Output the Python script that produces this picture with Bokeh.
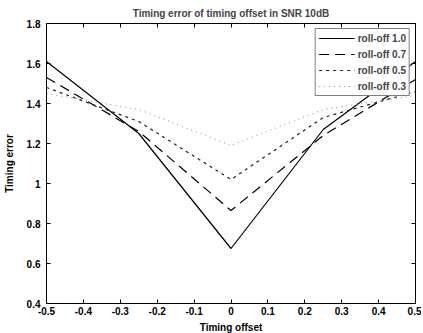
from bokeh.plotting import figure
from bokeh.models import FixedTicker, LinearAxis, Range1d, Legend, LegendItem
from bokeh.embed import file_html
from bokeh.resources import INLINE

# Data
offsets = [-0.5, -0.25, 0.0, 0.25, 0.5]
rolloff_10 = [1.61, 1.25, 0.675, 1.27, 1.61]
rolloff_07 = [1.53, 1.26, 0.865, 1.24, 1.52]
rolloff_05 = [1.48, 1.31, 1.02, 1.33, 1.46]
rolloff_03 = [1.45, 1.37, 1.19, 1.37, 1.44]
series_labels = ["roll-off 1.0", "roll-off 0.7", "roll-off 0.5", "roll-off 0.3"]

x_ticks = [-0.5, -0.4, -0.3, -0.2, -0.1, 0, 0.1, 0.2, 0.3, 0.4, 0.5]
x_tick_labels = ["-0.5", "-0.4", "-0.3", "-0.2", "-0.1", "0", "0.1", "0.2", "0.3", "0.4", "0.5"]
y_ticks = [0.4, 0.6, 0.8, 1.0, 1.2, 1.4, 1.6, 1.8]
y_tick_labels = ["0.4", "0.6", "0.8", "1", "1.2", "1.4", "1.6", "1.8"]

FONT = "Liberation Sans"
FS = "10px"

p = figure(
    output_backend="svg", toolbar_location=None,
    frame_width=369, frame_height=280,
    x_range=Range1d(-0.5, 0.5), y_range=Range1d(0.4, 1.8),
    min_border_left=4, min_border_right=6, min_border_top=4, min_border_bottom=2,
    title="Timing error of timing offset in SNR 10dB",
)
p.title.align = "center"
p.title.text_font = FONT
p.title.text_font_size = FS
p.title.text_font_style = "bold"
p.title.offset = 0
p.title.standoff = 10

p.xgrid.visible = False
p.ygrid.visible = False
p.outline_line_color = "black"
p.outline_line_width = 1
p.background_fill_color = "white"
p.border_fill_color = "white"

def style_axis(ax):
    ax.axis_line_color = "black"
    ax.major_tick_in = 4
    ax.major_tick_out = 0
    ax.minor_tick_in = 0
    ax.minor_tick_out = 0
    ax.major_tick_line_color = "black"
    ax.major_label_text_font = FONT
    ax.major_label_text_font_size = FS
    ax.major_label_text_font_style = "bold"
    ax.axis_label_text_font = FONT
    ax.axis_label_text_font_size = FS
    ax.axis_label_text_font_style = "bold"
    ax.axis_label_text_color = "black"
    ax.major_label_text_color = "black"

p.xaxis.ticker = FixedTicker(ticks=x_ticks)
p.xaxis.major_label_overrides = {t: l for t, l in zip(x_ticks, x_tick_labels)}
p.yaxis.ticker = FixedTicker(ticks=y_ticks)
p.yaxis.major_label_overrides = {t: l for t, l in zip(y_ticks, y_tick_labels)}
p.xaxis.axis_label = "Timing offset"
p.yaxis.axis_label = "Timing error"
p.xaxis.major_label_standoff = 3
p.yaxis.major_label_standoff = 6
p.xaxis.axis_label_standoff = 4
p.yaxis.axis_label_standoff = 9
style_axis(p.xaxis[0])
style_axis(p.yaxis[0])

top_axis = LinearAxis(ticker=FixedTicker(ticks=x_ticks))
right_axis = LinearAxis(ticker=FixedTicker(ticks=y_ticks))
for ax, ticks in ((top_axis, x_ticks), (right_axis, y_ticks)):
    style_axis(ax)
    ax.major_label_overrides = {t: "" for t in ticks}
    ax.major_label_standoff = 0
p.add_layout(top_axis, "above")
p.add_layout(right_axis, "right")

r1 = p.line(offsets, rolloff_10, line_color="black", line_width=1.2)
r2 = p.line(offsets, rolloff_07, line_color="black", line_width=1.2, line_dash="10 6")
r3 = p.line(offsets, rolloff_05, line_color="#222222", line_width=1.2, line_dash="3 4")
r4 = p.line(offsets, rolloff_03, line_color="#888888", line_width=1.0, line_dash="1 4")

legend = Legend(
    items=[LegendItem(label=l, renderers=[r]) for l, r in zip(series_labels, [r1, r2, r3, r4])],
    location="top_right",
)
legend.border_line_color = "black"
legend.border_line_width = 1
legend.background_fill_color = "white"
legend.background_fill_alpha = 1
legend.label_text_font = FONT
legend.label_text_font_size = FS
legend.label_text_font_style = "bold"
legend.glyph_width = 36
legend.glyph_height = 12
legend.label_height = 12
legend.spacing = 4
legend.padding = 3
legend.margin = 5
legend.label_standoff = 3
p.add_layout(legend, "center")

open("out.html", "w").write(file_html(p, INLINE))
